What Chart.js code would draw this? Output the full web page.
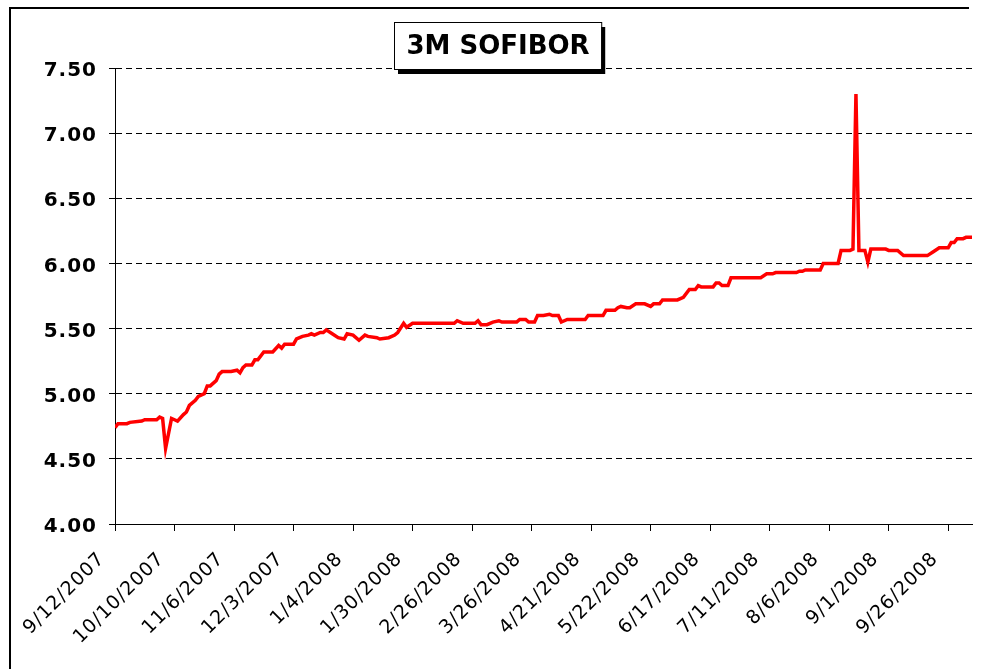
<!DOCTYPE html>
<html>
<head>
<meta charset="utf-8">
<title>3M SOFIBOR</title>
<script src="https://cdn.jsdelivr.net/npm/chart.js@4/dist/chart.umd.min.js"></script>
<style>
    html, body { margin: 0; padding: 0; background: #fff; overflow: hidden; }
    #wrap { position: absolute; left: 0; top: 0; width: 982px; height: 669px; }
</style>
</head>
<body>
<div id="wrap"><canvas id="rateChart" width="982" height="669"></canvas></div>
<script>
// trading day index (0 = 9/12/2007) and 3M SOFIBOR rate, read at the turning points
const dayIndex = [
    0, 1, 4, 5, 9, 10, 14, 15, 16, 17, 19, 20, 21, 23, 24, 25, 27, 28, 30, 31,
    32, 34, 35, 36, 39, 41, 42, 43, 44, 46, 47, 48, 50, 53, 55, 56, 57, 60, 61, 63,
    65, 66, 67, 69, 70, 71, 73, 75, 77, 78, 80, 82, 84, 85, 88, 89, 92, 93, 94, 95,
    97, 98, 100, 114, 115, 117, 121, 122, 123, 125, 127, 129, 130, 135, 136, 138, 139, 141, 142, 144,
    146, 147, 149, 150, 152, 158, 159, 164, 165, 168, 169, 170, 172, 173, 175, 178, 180, 181, 183, 184,
    189, 191, 193, 195, 196, 197, 201, 202, 203, 204, 206, 207, 217, 219, 221, 222, 229, 230, 231, 232,
    237, 238, 243, 244, 247, 248, 249, 250, 252, 253, 254, 259, 260, 263, 265, 273, 275, 277, 280, 281,
    282, 283, 285, 286, 288
];
const rateValues = [
    4.74, 4.77, 4.77, 4.78, 4.79, 4.80, 4.80, 4.82, 4.81, 4.58, 4.81, 4.80, 4.79, 4.84, 4.86, 4.91, 4.95, 4.98, 5.00, 5.06,
    5.06, 5.10, 5.15, 5.17, 5.17, 5.18, 5.16, 5.20, 5.22, 5.22, 5.26, 5.26, 5.32, 5.32, 5.37, 5.35, 5.38, 5.38, 5.42, 5.44,
    5.45, 5.46, 5.45, 5.47, 5.47, 5.49, 5.46, 5.43, 5.42, 5.46, 5.45, 5.41, 5.45, 5.44, 5.43, 5.42, 5.43, 5.44, 5.45, 5.47,
    5.54, 5.51, 5.54, 5.54, 5.56, 5.54, 5.54, 5.56, 5.53, 5.53, 5.55, 5.56, 5.55, 5.55, 5.57, 5.57, 5.55, 5.55, 5.60, 5.60,
    5.61, 5.60, 5.60, 5.55, 5.57, 5.57, 5.60, 5.60, 5.64, 5.64, 5.66, 5.67, 5.66, 5.66, 5.69, 5.69, 5.67, 5.69, 5.69, 5.72,
    5.72, 5.74, 5.80, 5.80, 5.83, 5.82, 5.82, 5.85, 5.85, 5.83, 5.83, 5.89, 5.89, 5.92, 5.92, 5.93, 5.93, 5.94, 5.94, 5.95,
    5.95, 6.00, 6.00, 6.10, 6.10, 6.11, 7.30, 6.10, 6.10, 6.01, 6.11, 6.11, 6.10, 6.10, 6.06, 6.06, 6.09, 6.12, 6.12, 6.16,
    6.16, 6.19, 6.19, 6.20, 6.20
];
// one date label every 20 trading days
const tickLabels = [
    "9/12/2007", "10/10/2007", "11/6/2007", "12/3/2007", "1/4/2008",
    "1/30/2008", "2/26/2008", "3/26/2008", "4/21/2008", "5/22/2008",
    "6/17/2008", "7/11/2008", "8/6/2008", "9/1/2008", "9/26/2008"
];
const tickStep = 20;
const chartTitle = "3M SOFIBOR";

const framePlugin = {
    id: "frameAndTitle",
    beforeDraw(chart) {
        // the source picture uses a wide, loosely spaced face
        chart.ctx.letterSpacing = "1px";
    },
    afterDraw(chart) {
        const ctx = chart.ctx;
        ctx.save();
        ctx.letterSpacing = "0px";
        // outer chart frame: left edge and top edge only
        ctx.fillStyle = "#000";
        ctx.fillRect(9, 7, 2, chart.height - 7);
        ctx.fillRect(9, 7, 960, 2);

        // title box with shadow
        const cx = 498, cy = 46;
        ctx.font = "bold 26px 'DejaVu Sans'";
        const w = ctx.measureText(chartTitle).width + 24;
        const h = 47;
        const bx = Math.round(cx - w / 2), by = 22;
        ctx.fillStyle = "#000";
        ctx.fillRect(bx + 4, by + 5, w, h);
        ctx.fillStyle = "#fff";
        ctx.fillRect(bx, by, w, h);
        ctx.strokeStyle = "#000";
        ctx.lineWidth = 1;
        ctx.strokeRect(bx + 0.5, by + 0.5, w, h);
        ctx.fillStyle = "#000";
        ctx.textAlign = "center";
        ctx.textBaseline = "middle";
        ctx.fillText(chartTitle, cx, cy + 1);
        ctx.restore();
    }
};

const ctx = document.getElementById("rateChart").getContext("2d");
new Chart(ctx, {
    type: "line",
    data: {
        datasets: [{
            label: chartTitle,
            data: dayIndex.map((d, i) => ({ x: d, y: rateValues[i] })),
            borderColor: "#ff0000",
            borderWidth: 3.5,
            pointRadius: 0,
            tension: 0,
            fill: false,
        }],
    },
    options: {
        responsive: false,
        animation: false,
        layout: { padding: { top: 68, right: 10, left: 0, bottom: 0 } },
        plugins: {
            legend: { display: false },
            title: { display: false },
            tooltip: { enabled: false },
        },
        scales: {
            x: {
                type: "linear",
                min: 0,
                max: 288,
                afterBuildTicks: (scale) => {
                    scale.ticks = tickLabels.map((_, i) => ({ value: i * tickStep }));
                },
                afterFit: (scale) => { scale.height = 145; },
                grid: {
                    drawOnChartArea: false,
                    drawTicks: true,
                    tickLength: 7,
                    tickColor: "#000",
                    color: "#000",
                },
                border: { display: true, color: "#000", width: 1 },
                ticks: {
                    autoSkip: false,
                    maxRotation: 45,
                    minRotation: 45,
                    padding: 17,
                    labelOffset: -13,
                    color: "#000",
                    font: { family: "'DejaVu Sans'", size: 19 },
                    callback: (v) => tickLabels[Math.round(v / tickStep)],
                },
            },
            y: {
                min: 4,
                max: 7.5,
                afterFit: (scale) => { scale.width = 115; },
                ticks: {
                    stepSize: 0.5,
                    padding: 12,
                    labelOffset: 3,
                    color: "#000",
                    font: { family: "'DejaVu Sans'", size: 20, weight: "bold" },
                    callback: (v) => v.toFixed(2),
                },
                grid: {
                    color: "#000",
                    lineWidth: 1,
                    tickLength: 6,
                    tickColor: "#000",
                    tickBorderDash: [],
                },
                border: { display: true, color: "#000", width: 1, dash: [6, 4] },
            },
        },
    },
    plugins: [framePlugin],
});
</script>
</body>
</html>
